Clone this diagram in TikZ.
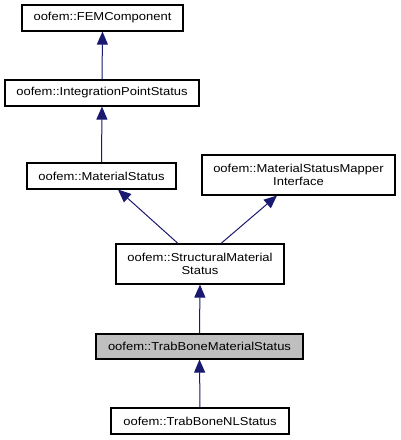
\documentclass[tikz,border=0pt]{standalone}
\usepackage{fontspec}
\setmainfont[FakeStretch=1.13]{Liberation Sans}
\usetikzlibrary{arrows.meta}
\definecolor{edgeblue}{HTML}{191970}
\definecolor{hlgray}{HTML}{BFBFBF}
\begin{document}
\begin{tikzpicture}[x=1pt,y=-1pt,
  cls/.style={draw=black,line width=1.1pt,fill=white,inner sep=0pt,align=center,
    font=\fontsize{11.5}{13.3}\selectfont},
  inh/.style={draw=edgeblue,line width=1pt,-{Triangle[length=13pt,width=11pt,fill=edgeblue]}}]
\useasboundingbox (0,0) rectangle (401,440);
\node[cls,minimum width=161pt,minimum height=26pt] (fem) at (102.5,18) {oofem::FEMComponent};
\node[cls,minimum width=194pt,minimum height=26pt] (ips) at (102,93) {oofem::IntegrationPointStatus};
\node[cls,minimum width=149pt,minimum height=26pt] (ms) at (101.5,176) {oofem::MaterialStatus};
\node[cls,minimum width=193pt,minimum height=40pt] (msmi) at (298.5,175) {oofem::MaterialStatusMapper\\Interface};
\node[cls,minimum width=168pt,minimum height=40pt] (sms) at (200,264) {oofem::StructuralMaterial\\Status};
\node[cls,fill=hlgray,minimum width=207pt,minimum height=25pt] (tbms) at (199.5,346.5) {oofem::TrabBoneMaterialStatus};
\node[cls,minimum width=178pt,minimum height=26pt] (tbnl) at (200,421) {oofem::TrabBoneNLStatus};
\draw[inh] (ips.north) -- (fem.south);
\draw[inh] (ms.north) -- (ips.south);
\draw[inh] ([xshift=-22pt]sms.north) -- ([xshift=16.5pt]ms.south);
\draw[inh] ([xshift=21pt]sms.north) -- ([xshift=-21.5pt]msmi.south);
\draw[inh] (tbms.north) -- (sms.south);
\draw[inh] (tbnl.north) -- (tbms.south);
\end{tikzpicture}
\end{document}
